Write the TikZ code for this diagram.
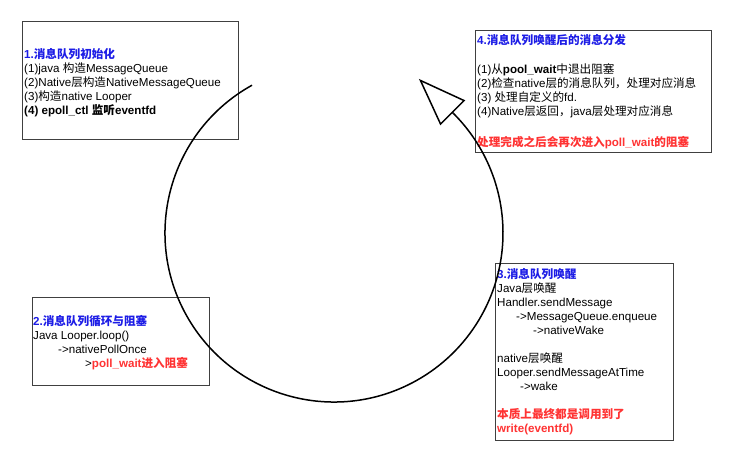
\documentclass[tikz,border=0pt]{standalone}
\usepackage{fontspec}
\setmainfont{Liberation Sans}
\newfontfamily\cjkfont{Noto Sans CJK SC}
\newcommand\zh[1]{{\cjkfont #1}}
\usetikzlibrary{arrows.meta,calc}
\definecolor{tblue}{RGB}{28,28,230}
\definecolor{tred}{RGB}{255,51,51}
\begin{document}
\begin{tikzpicture}[x=1pt,y=-1pt,
  box/.style={draw=black!75,line width=0.9pt,inner sep=0pt,anchor=north west},
  txt/.style={anchor=north west,inner sep=0pt,align=left,font=\fontsize{11.6pt}{14pt}\selectfont}]
\useasboundingbox[fill=white] (0,0) rectangle (747,459);
% boxes
\node[box,minimum width=216pt,minimum height=118pt] (b1) at (22,21) {};
\node[box,minimum width=236pt,minimum height=122pt] (b4) at (475,30) {};
\node[box,minimum width=177pt,minimum height=88pt] (b2) at (32,297) {};
\node[box,minimum width=178pt,minimum height=177pt] (b3) at (495,263) {};
% texts
\node[txt] (t1) at (24,48) {%
\textcolor{tblue}{\bfseries 1.\zh{消息队列初始化}}\\
(1)java \zh{构造}MessageQueue\\
(2)Native\zh{层构造}NativeMessageQueue\\
(3)\zh{构造}native Looper\\
{\bfseries (4) epoll\_ctl \zh{监听}eventfd}};
\node[txt] (t4) at (477,34) {%
\textcolor{tblue}{\bfseries 4.\zh{消息队列唤醒后的消息分发}}\\[15pt]
(1)\zh{从}\textbf{pool\_wait}\zh{中退出阻塞}\\
(2)\zh{检查}native\zh{层的消息队列，处理对应消息}\\
(3) \zh{处理自定义的}fd.\\
(4)Native\zh{层返回，}java\zh{层处理对应消息}\\[17pt]
\textcolor{tred}{\bfseries\zh{处理完成之后会再次进入}poll\_wait\zh{的阻塞}}};
\node[txt] (t2) at (33,315) {%
\textcolor{tblue}{\bfseries 2.\zh{消息队列循环与阻塞}}\\
Java Looper.loop()\\
\hspace*{25pt}->nativePollOnce\\
\hspace*{52pt}>\textcolor{tred}{\bfseries poll\_wait\zh{进入阻塞}}};
\node[txt] (t3) at (497,268) {%
\textcolor{tblue}{\bfseries 3.\zh{消息队列唤醒}}\\
Java\zh{层唤醒}\\
Handler.sendMessage\\
\hspace*{19pt}->MessageQueue.enqueue\\
\hspace*{36pt}->nativeWake\\[14pt]
native\zh{层唤醒}\\
Looper.sendMessageAtTime\\
\hspace*{23pt}->wake\\[14pt]
\textcolor{tred}{\bfseries\zh{本质上最终都是调用到了}}\\
\textcolor{tred}{\bfseries write(eventfd)}};
% cycle arc
\coordinate (c) at (334,233);
\coordinate (s) at ($(c)+(241:169)$);
\coordinate (e) at ($(c)+(-45:169)$);
\draw[line width=1.5pt] (s) arc[start angle=241,end angle=-45,radius=169];
\draw[line width=1.5pt,-{Triangle[open,length=48pt,width=35pt]}] (e) -- ($(e)+(-34.6,-34.6)$);
\end{tikzpicture}
\end{document}
